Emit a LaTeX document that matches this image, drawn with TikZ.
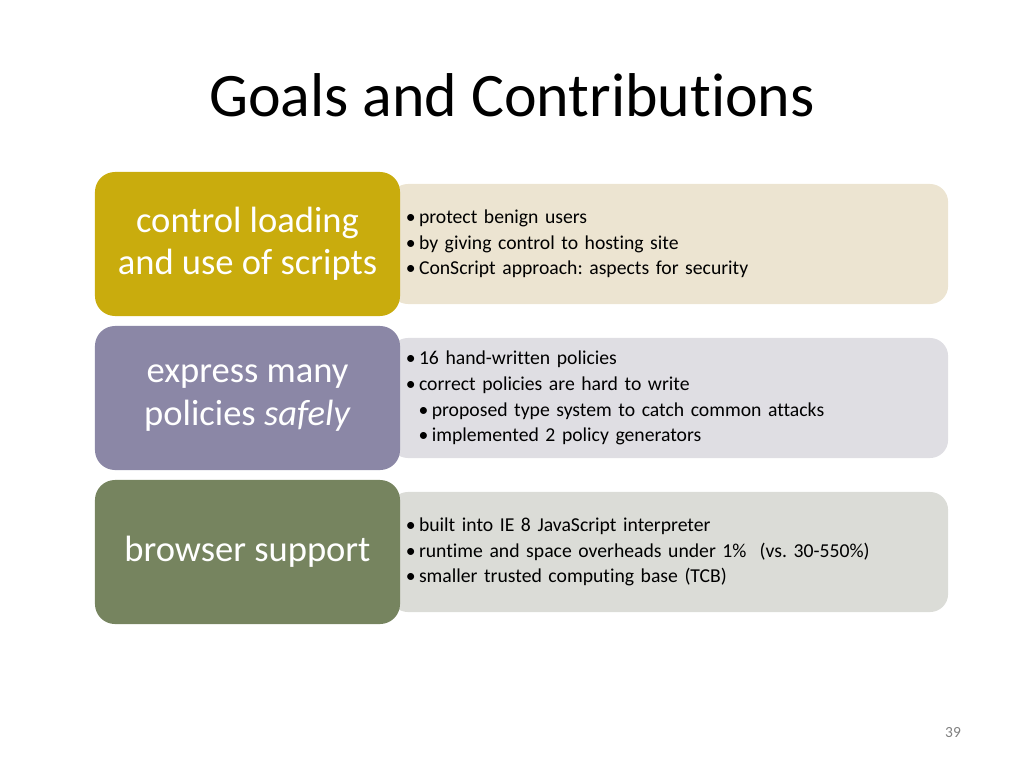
\documentclass[tikz,border=0pt]{standalone}
\usepackage{fontspec}
\setmainfont{Carlito}[Ligatures={NoCommon,NoRare}]
\frenchspacing

\definecolor{goldbox}{HTML}{C9AC0D}
\definecolor{purplebox}{HTML}{8B87A6}
\definecolor{greenbox}{HTML}{76845F}
\definecolor{goldback}{HTML}{ECE4D1}
\definecolor{purpleback}{HTML}{DFDEE3}
\definecolor{greenback}{HTML}{DBDCD7}

\tikzset{
  headbox/.style={rectangle, rounded corners=0.5cm, minimum width=7.625cm, minimum height=3.6cm,
    text=white, align=center, inner sep=0pt, font=\fontsize{26}{30}\selectfont},
  listbox/.style={rectangle, rounded corners=0.45cm, minimum width=13.95cm, minimum height=3cm,
    text width=13.15cm, inner xsep=0.4cm, align=left, font=\fontsize{14}{18.3}\selectfont},
}
\newcommand{\itm}{\textbullet\,}
\newcommand{\subitm}{\hspace*{0.65em}\textbullet\,}

\begin{document}
\begin{tikzpicture}[x=0.025cm,y=-0.025cm]
\useasboundingbox (0,0) rectangle (1024,768);

\node (T) at (512,117) [anchor=base, font=\fontsize{44}{52}\selectfont] {Goals and Contributions};

\node (D1) at (669,244) [listbox, fill=goldback] {\itm protect benign users\\ \itm by giving control to hosting site\\ \itm ConScript approach: aspects for security};
\node (D2) at (669,398) [listbox, fill=purpleback] {\itm 16 hand-written policies\\ \itm correct policies are hard to write\\ \subitm proposed type system to catch common attacks\\ \subitm implemented 2 policy generators};
\node (D3) at (669,552) [listbox, fill=greenback] {\itm built into IE 8 JavaScript interpreter\\ \itm runtime and space overheads under 1\%\ \ (vs. 30-550\%)\\ \itm smaller trusted computing base (TCB)};

\node (B1) at (247.5,244) [headbox, fill=goldbox] {control loading\\ and use of scripts};
\node (B2) at (247.5,398) [headbox, fill=purplebox] {express many\\ policies \textit{safely}};
\node (B3) at (247.5,552) [headbox, fill=greenbox] {browser support};

\node (N) at (953,733) [text=gray, font=\fontsize{11}{13}\selectfont] {39};
\end{tikzpicture}
\end{document}
